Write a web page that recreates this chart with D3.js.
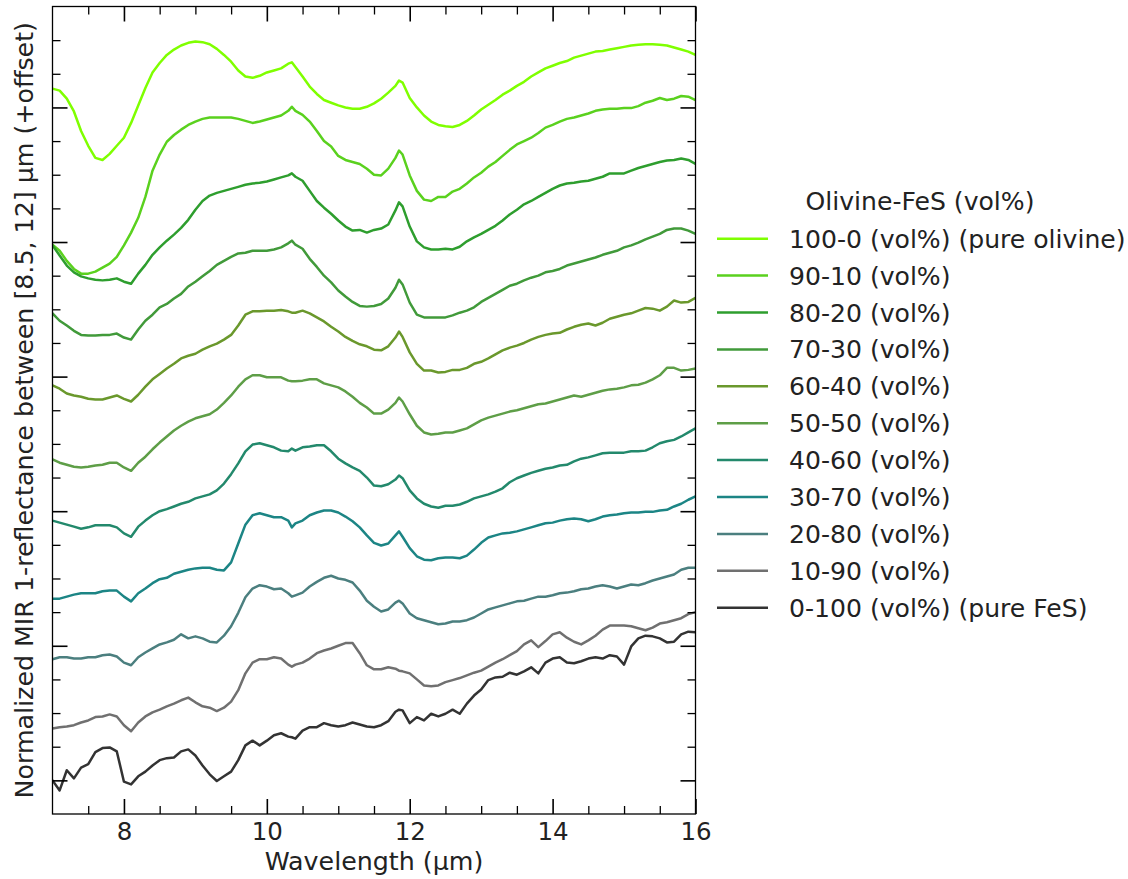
<!DOCTYPE html>
<html>
<head>
<meta charset="utf-8">
<script src="https://cdn.jsdelivr.net/npm/d3@7"></script>
<style>
  body { margin: 0; background: #fff; }
  text { font-family: "DejaVu Sans", sans-serif; fill: #222; }
</style>
</head>
<body>
<svg id="chart" width="1128" height="879"></svg>
<script>
// ---------- DATA ----------
const wavelength = [7.0,7.1,7.2,7.3,7.4,7.5,7.6,7.7,7.8,7.9,8.0,8.1,8.2,8.3,8.4,8.5,8.6,8.7,8.8,8.9,9.0,9.1,9.2,9.3,9.4,9.5,9.6,9.7,9.8,9.9,10.0,10.1,10.2,10.3,10.35,10.4,10.5,10.6,10.7,10.8,10.9,11.0,11.1,11.2,11.3,11.4,11.5,11.6,11.7,11.8,11.85,11.9,12.0,12.1,12.2,12.3,12.4,12.5,12.6,12.7,12.8,12.9,13.0,13.1,13.2,13.3,13.4,13.5,13.6,13.7,13.8,13.9,14.0,14.1,14.2,14.3,14.4,14.5,14.6,14.7,14.8,14.9,15.0,15.1,15.2,15.3,15.4,15.5,15.6,15.7,15.8,15.9,16.0];

const labels = ["100-0 (vol%) (pure olivine)","90-10 (vol%)","80-20 (vol%)","70-30 (vol%)","60-40 (vol%)","50-50 (vol%)","40-60 (vol%)","30-70 (vol%)","20-80 (vol%)","10-90 (vol%)","0-100 (vol%) (pure FeS)"];
const colors = ["#7fff00","#5ad11e","#2e9e2e","#419a3a","#6a982c","#5e9e47","#23896c","#1c8585","#4b7f7f","#707070","#333333"];
const offsets = [10,9,8,7,6,5,4,3,2,1,0];
const legendTitle = "Olivine-FeS (vol%)";
const xTicks = [8,10,12,14,16];

// normalized 1-reflectance (before offset)
const s100_0 = [0.28,0.25,0.13,-0.06,-0.35,-0.57,-0.75,-0.78,-0.69,-0.57,-0.45,-0.23,0.03,0.29,0.52,0.66,0.78,0.86,0.92,0.96,0.98,0.97,0.94,0.87,0.78,0.68,0.55,0.46,0.44,0.47,0.52,0.55,0.58,0.65, 0.67, 0.60,0.46,0.31,0.20,0.11,0.07,0.03,0.00,-0.02,-0.02,0.01,0.06,0.13,0.22,0.32, 0.40, 0.37,0.14,0.00,-0.12,-0.21,-0.26,-0.28,-0.29,-0.26,-0.20,-0.12,-0.03,0.04,0.11,0.19,0.25,0.32,0.38,0.46,0.52,0.58,0.62,0.66,0.69,0.74,0.77,0.80,0.83,0.84,0.86,0.88,0.90,0.92,0.93,0.94,0.94,0.93,0.92,0.89,0.86,0.83,0.78];
const s90_10 = [-1.04,-1.13,-1.28,-1.40,-1.47,-1.47,-1.44,-1.38,-1.32,-1.22,-1.05,-0.86,-0.64,-0.33,0.06,0.30,0.49,0.59,0.67,0.74,0.79,0.83,0.85,0.85,0.85,0.85,0.83,0.80,0.77,0.79,0.82,0.85,0.88,0.95, 1.01, 0.95,0.89,0.79,0.65,0.50,0.42,0.28,0.22,0.19,0.16,0.09,0.00,-0.01,0.09,0.25, 0.36, 0.30,-0.01,-0.24,-0.37,-0.39,-0.33,-0.33,-0.25,-0.21,-0.13,-0.04,0.03,0.12,0.19,0.28,0.37,0.45,0.50,0.55,0.62,0.70,0.74,0.79,0.83,0.85,0.88,0.91,0.95,0.97,0.98,0.98,0.99,0.99,1.02,1.07,1.10,1.14,1.11,1.13,1.17,1.16,1.11];
const s80_20 = [-0.05,-0.20,-0.35,-0.45,-0.51,-0.54,-0.56,-0.57,-0.56,-0.54,-0.59,-0.62,-0.47,-0.34,-0.19,-0.08,0.02,0.11,0.21,0.33,0.48,0.61,0.69,0.73,0.76,0.79,0.82,0.85,0.87,0.88,0.90,0.93,0.96,0.99, 1.02, 0.97,0.91,0.76,0.61,0.51,0.42,0.32,0.23,0.17,0.18,0.14,0.18,0.20,0.26,0.47, 0.59, 0.53,0.23,0.01,-0.08,-0.11,-0.11,-0.10,-0.11,-0.07,0.01,0.07,0.12,0.18,0.24,0.32,0.41,0.48,0.56,0.61,0.67,0.73,0.79,0.84,0.87,0.88,0.90,0.91,0.94,0.97,1.02,1.02,1.02,1.06,1.10,1.13,1.16,1.19,1.21,1.22,1.24,1.22,1.16];
const s70_30 = [-0.06,-0.17,-0.24,-0.32,-0.38,-0.39,-0.39,-0.38,-0.38,-0.36,-0.42,-0.45,-0.30,-0.17,-0.08,0.03,0.08,0.16,0.23,0.34,0.41,0.49,0.57,0.66,0.72,0.78,0.83,0.84,0.87,0.87,0.87,0.89,0.92,0.98, 1.02, 0.96,0.90,0.75,0.63,0.50,0.40,0.28,0.19,0.11,0.05,0.04,0.05,0.08,0.16,0.32, 0.44, 0.37,0.10,-0.08,-0.12,-0.12,-0.12,-0.12,-0.09,-0.05,-0.02,0.03,0.11,0.17,0.23,0.29,0.35,0.38,0.43,0.47,0.50,0.55,0.57,0.60,0.65,0.68,0.71,0.74,0.77,0.81,0.84,0.87,0.92,0.95,0.99,1.04,1.08,1.12,1.18,1.20,1.20,1.17,1.12];
const s60_40 = [-0.13,-0.18,-0.25,-0.28,-0.30,-0.33,-0.34,-0.34,-0.31,-0.28,-0.33,-0.37,-0.27,-0.15,-0.04,0.04,0.12,0.19,0.27,0.31,0.34,0.40,0.45,0.49,0.55,0.62,0.76,0.92,0.97,0.97,0.98,0.98,0.99,0.97, 0.95, 0.95,0.98,0.94,0.88,0.82,0.74,0.67,0.59,0.53,0.48,0.45,0.40,0.39,0.45,0.58, 0.67, 0.59,0.36,0.19,0.09,0.09,0.06,0.07,0.10,0.10,0.13,0.19,0.22,0.27,0.33,0.39,0.43,0.46,0.50,0.55,0.59,0.62,0.64,0.65,0.70,0.74,0.77,0.79,0.76,0.80,0.86,0.89,0.92,0.94,0.98,1.02,1.01,0.98,1.04,1.13,1.10,1.11,1.17];
const s50_50 = [-0.23,-0.28,-0.31,-0.34,-0.35,-0.34,-0.32,-0.31,-0.28,-0.28,-0.35,-0.40,-0.28,-0.19,-0.08,0.02,0.11,0.20,0.27,0.33,0.38,0.41,0.44,0.51,0.61,0.72,0.85,0.96,1.02,1.02,0.99,0.99,0.99,0.94, 0.93, 0.93,0.94,0.96,0.96,0.90,0.87,0.84,0.78,0.70,0.61,0.54,0.45,0.45,0.51,0.61, 0.69, 0.63,0.44,0.27,0.17,0.14,0.15,0.17,0.17,0.20,0.23,0.29,0.35,0.39,0.42,0.45,0.48,0.50,0.53,0.56,0.59,0.60,0.63,0.66,0.69,0.72,0.70,0.73,0.76,0.79,0.81,0.82,0.84,0.87,0.88,0.91,0.96,1.02,1.13,1.13,1.09,1.10,1.12];
const s40_60 = [-0.14,-0.17,-0.20,-0.23,-0.26,-0.24,-0.21,-0.21,-0.21,-0.24,-0.33,-0.38,-0.23,-0.14,-0.06,0.00,0.03,0.07,0.11,0.14,0.19,0.22,0.25,0.31,0.41,0.55,0.71,0.89,0.99,1.01,0.98,0.95,0.90,0.89, 0.93, 0.90,0.95,0.96,0.98,0.98,0.89,0.78,0.71,0.65,0.60,0.50,0.38,0.37,0.40,0.47, 0.53, 0.49,0.31,0.19,0.11,0.07,0.05,0.08,0.08,0.10,0.14,0.19,0.22,0.25,0.29,0.34,0.43,0.49,0.53,0.57,0.60,0.63,0.65,0.68,0.69,0.74,0.78,0.80,0.83,0.86,0.87,0.87,0.87,0.89,0.89,0.90,0.95,1.01,1.04,1.06,1.11,1.17,1.23];
const s30_70 = [-0.30,-0.30,-0.27,-0.24,-0.22,-0.22,-0.22,-0.19,-0.18,-0.18,-0.27,-0.34,-0.22,-0.15,-0.07,-0.01,0.01,0.07,0.10,0.13,0.15,0.16,0.16,0.13,0.12,0.24,0.52,0.80,0.94,0.97,0.94,0.91,0.91,0.86, 0.76, 0.82,0.86,0.94,0.98,1.01,1.01,0.98,0.92,0.85,0.76,0.64,0.53,0.49,0.52,0.64, 0.70, 0.62,0.45,0.33,0.28,0.27,0.30,0.31,0.31,0.30,0.34,0.43,0.53,0.61,0.64,0.67,0.68,0.70,0.73,0.76,0.79,0.82,0.83,0.86,0.88,0.89,0.88,0.85,0.88,0.92,0.94,0.95,0.97,0.98,0.98,0.99,0.99,1.01,1.02,1.07,1.11,1.17,1.22];
const s20_80 = [-0.20,-0.17,-0.17,-0.19,-0.19,-0.17,-0.17,-0.14,-0.13,-0.16,-0.25,-0.29,-0.17,-0.10,-0.04,0.02,0.05,0.09,0.17,0.11,0.14,0.11,0.06,0.05,0.15,0.29,0.49,0.72,0.85,0.90,0.88,0.84,0.85,0.78, 0.73, 0.75,0.79,0.88,0.95,1.01,1.04,1.00,0.98,0.94,0.82,0.67,0.58,0.51,0.54,0.64, 0.67, 0.63,0.48,0.41,0.38,0.35,0.32,0.33,0.36,0.36,0.38,0.42,0.48,0.54,0.57,0.60,0.63,0.66,0.67,0.70,0.73,0.73,0.75,0.78,0.79,0.81,0.84,0.85,0.88,0.90,0.88,0.85,0.88,0.91,0.90,0.93,0.97,1.00,1.03,1.06,1.13,1.16,1.16];
const s10_90 = [-0.23,-0.21,-0.20,-0.18,-0.14,-0.11,-0.06,-0.05,-0.02,-0.05,-0.18,-0.27,-0.14,-0.05,0.01,0.05,0.10,0.14,0.19,0.23,0.16,0.10,0.08,0.03,0.08,0.17,0.34,0.59,0.75,0.80,0.80,0.83,0.81,0.72, 0.69, 0.72,0.75,0.81,0.89,0.93,0.96,1.00,1.04,1.04,0.89,0.71,0.65,0.65,0.68,0.66, 0.63, 0.62,0.59,0.50,0.41,0.40,0.41,0.46,0.49,0.52,0.56,0.60,0.63,0.69,0.75,0.80,0.86,0.92,1.02,1.08,0.98,1.07,1.17,1.20,1.12,1.06,1.02,1.08,1.15,1.24,1.30,1.30,1.30,1.29,1.26,1.23,1.27,1.33,1.35,1.38,1.41,1.47,1.50];
const s0_100 = [0.00,-0.15,0.15,0.03,0.19,0.24,0.42,0.48,0.49,0.43,-0.02,-0.06,0.06,0.13,0.22,0.30,0.33,0.34,0.43,0.46,0.37,0.22,0.09,-0.01,0.06,0.13,0.30,0.52,0.59,0.52,0.59,0.67,0.70,0.65, 0.64, 0.62,0.74,0.79,0.79,0.85,0.82,0.80,0.82,0.86,0.83,0.80,0.79,0.82,0.88,1.02, 1.05, 1.04,0.85,0.94,0.89,0.99,0.95,0.99,1.05,0.99,1.14,1.26,1.35,1.49,1.53,1.54,1.60,1.57,1.62,1.68,1.59,1.75,1.81,1.83,1.75,1.74,1.77,1.81,1.83,1.81,1.86,1.84,1.72,1.99,2.11,2.15,2.14,2.11,2.05,2.06,2.17,2.21,2.20];

const seriesValues = [s100_0,s90_10,s80_20,s70_30,s60_40,s50_50,s40_60,s30_70,s20_80,s10_90,s0_100];
seriesValues.forEach((a,i)=>{ if (a.length !== wavelength.length) console.error("length mismatch", labels[i], a.length); });

const series = labels.map((label,i)=>({
  label, color: colors[i], offset: offsets[i],
  points: wavelength.map((w,j)=>[w, seriesValues[i][j] + offsets[i]])
}));

// ---------- LAYOUT ----------
const svg = d3.select("#chart");
const plot = {left: 52.5, right: 695.5, top: 6.5, bottom: 814};
const x = d3.scaleLinear().domain([7,16]).range([plot.left, plot.right]);
const y = d3.scaleLinear().domain([-0.5,11.5]).range([plot.bottom, plot.top]);

svg.append("defs").append("clipPath").attr("id","clip")
  .append("rect").attr("x",plot.left).attr("y",plot.top)
  .attr("width",plot.right-plot.left).attr("height",plot.bottom-plot.top);

const line = d3.line().x(d=>x(d[0])).y(d=>y(d[1]));
svg.append("g").attr("clip-path","url(#clip)")
  .selectAll("path").data(series).join("path")
  .attr("d", d=>line(d.points))
  .attr("fill","none").attr("stroke", d=>d.color)
  .attr("stroke-width", 2.5).attr("stroke-linejoin","round").attr("stroke-linecap","round");

// ---------- AXES ----------
const xMinor = d3.range(7, 16.01, 0.5).filter(v => !xTicks.includes(v) && v>7 && v<16);
const yMajor = [0,2,4,6,8,10];
const yMinor = d3.range(-0.5, 11.51, 0.5).filter(v => !yMajor.includes(v) && v>-0.5 && v<11.5);

function styleAxis(g, w){
  g.select(".domain").remove();
  g.selectAll(".tick line").attr("stroke","#000").attr("stroke-width",w);
}
// bottom
svg.append("g").attr("transform",`translate(0,${plot.bottom})`)
  .call(d3.axisBottom(x).tickValues(xTicks).tickSizeInner(-15).tickSizeOuter(0).tickPadding(9).tickFormat(d3.format("d")))
  .call(g=>{ styleAxis(g,1.6); g.selectAll("text").attr("font-size",24.5).attr("fill","#222").style("font-family","DejaVu Sans"); });
svg.append("g").attr("transform",`translate(0,${plot.bottom})`)
  .call(d3.axisBottom(x).tickValues(xMinor).tickSizeInner(-8).tickSizeOuter(0).tickFormat(""))
  .call(g=>styleAxis(g,1.3));
// top
svg.append("g").attr("transform",`translate(0,${plot.top})`)
  .call(d3.axisTop(x).tickValues(xTicks).tickSizeInner(-15).tickSizeOuter(0).tickFormat(""))
  .call(g=>styleAxis(g,1.6));
svg.append("g").attr("transform",`translate(0,${plot.top})`)
  .call(d3.axisTop(x).tickValues(xMinor).tickSizeInner(-8).tickSizeOuter(0).tickFormat(""))
  .call(g=>styleAxis(g,1.3));
// left
svg.append("g").attr("transform",`translate(${plot.left},0)`)
  .call(d3.axisLeft(y).tickValues(yMajor).tickSizeInner(-15).tickSizeOuter(0).tickFormat(""))
  .call(g=>styleAxis(g,1.6));
svg.append("g").attr("transform",`translate(${plot.left},0)`)
  .call(d3.axisLeft(y).tickValues(yMinor).tickSizeInner(-8).tickSizeOuter(0).tickFormat(""))
  .call(g=>styleAxis(g,1.3));
// right
svg.append("g").attr("transform",`translate(${plot.right},0)`)
  .call(d3.axisRight(y).tickValues(yMajor).tickSizeInner(-15).tickSizeOuter(0).tickFormat(""))
  .call(g=>styleAxis(g,1.6));
svg.append("g").attr("transform",`translate(${plot.right},0)`)
  .call(d3.axisRight(y).tickValues(yMinor).tickSizeInner(-8).tickSizeOuter(0).tickFormat(""))
  .call(g=>styleAxis(g,1.3));

// frame
svg.append("rect").attr("x",plot.left).attr("y",plot.top)
  .attr("width",plot.right-plot.left).attr("height",plot.bottom-plot.top)
  .attr("fill","none").attr("stroke","#000").attr("stroke-width",1.3);

// axis labels
svg.append("text").attr("x",(plot.left+plot.right)/2).attr("y",870)
  .attr("text-anchor","middle").attr("font-size",25.3).text("Wavelength (µm)");
svg.append("text").attr("transform",`translate(33,${(plot.top+plot.bottom)/2}) rotate(-90)`)
  .attr("text-anchor","middle").attr("font-size",25.3)
  .text("Normalized MIR 1-reflectance between [8.5, 12] µm (+offset)");

// ---------- LEGEND ----------
const legend = svg.append("g");
legend.append("text").attr("x",920).attr("y",210).attr("text-anchor","middle")
  .attr("font-size",25.1).text(legendTitle);
const item = legend.selectAll("g.item").data(series).join("g").attr("class","item")
  .attr("transform",(d,i)=>`translate(0,${238.7 + i*36.9})`);
item.append("line").attr("x1",717).attr("x2",768).attr("y1",0).attr("y2",0)
  .attr("stroke",d=>d.color).attr("stroke-width",2.5);
item.append("text").attr("x",789).attr("y",9).attr("font-size",25.1).text(d=>d.label);
</script>
</body>
</html>
